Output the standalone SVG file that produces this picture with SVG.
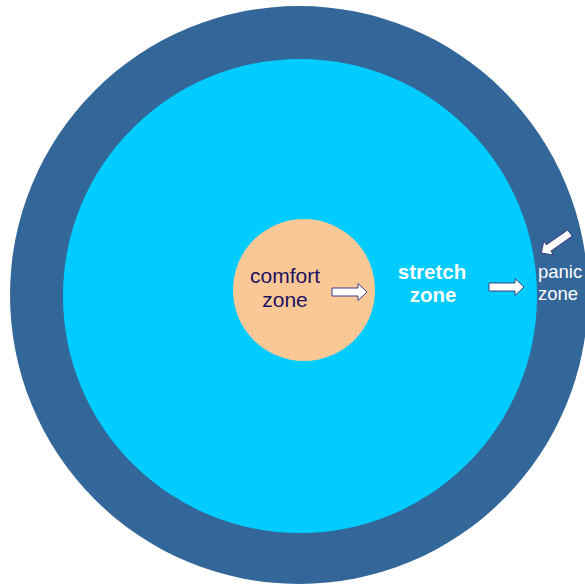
<svg xmlns="http://www.w3.org/2000/svg" width="585" height="586" viewBox="0 0 585 586">
  <style>
    .lbl { font-family: "Liberation Sans", Arial, sans-serif; text-anchor: middle; }
    .arrow { fill: #ffffff; stroke: #3a3f86; stroke-width: 1; stroke-linejoin: miter; }
  </style>
  <defs>
    <path id="arr" d="M0,-4 L26,-4 L26,-8.5 L35,0 L26,8.5 L26,4 L0,4 Z"/>
  </defs>
  <rect width="585" height="586" fill="#ffffff"/>
  <g id="panic-zone">
    <circle cx="299" cy="295" r="289" fill="#336699"/>
    <text class="lbl" x="538" y="278" font-size="18.5" fill="#ffffff" style="text-anchor:start">panic</text>
    <text class="lbl" x="538" y="300" font-size="18.5" fill="#ffffff" style="text-anchor:start">zone</text>
  </g>
  <g id="stretch-zone">
    <circle cx="300" cy="296" r="237" fill="#00ccff"/>
    <text class="lbl" x="432" y="279" font-size="20.5" font-weight="bold" fill="#ffffff">stretch</text>
    <text class="lbl" x="433" y="302" font-size="20.5" font-weight="bold" fill="#ffffff">zone</text>
  </g>
  <g id="comfort-zone">
    <circle cx="304" cy="290" r="71" fill="#f9c896"/>
    <text class="lbl" x="285" y="283" font-size="21" fill="#1e1060">comfort</text>
    <text class="lbl" x="285" y="307" font-size="21" fill="#1e1060">zone</text>
  </g>
  <g id="connectors">
    <use href="#arr" class="arrow" transform="translate(332,292)"/>
    <use href="#arr" class="arrow" transform="translate(489,287)"/>
    <use href="#arr" class="arrow" transform="translate(570,233) rotate(145)"/>
  </g>
</svg>
